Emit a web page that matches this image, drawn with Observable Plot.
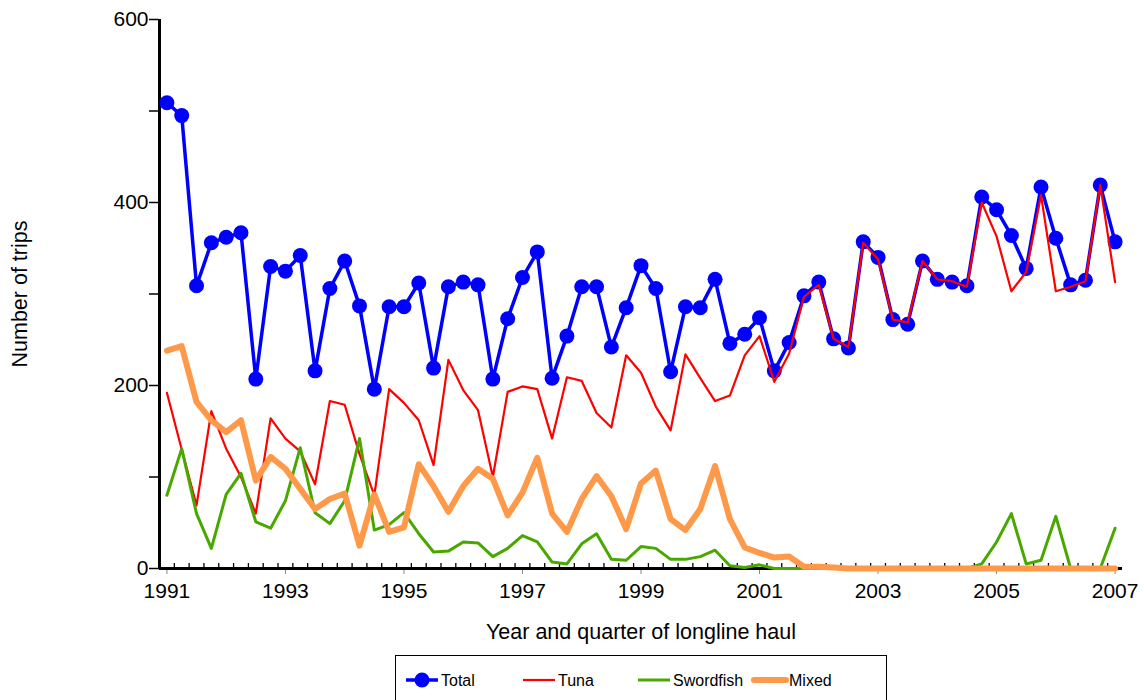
<!DOCTYPE html>
<html><head><meta charset="utf-8">
<script src="https://cdn.jsdelivr.net/npm/d3@7"></script>
<script src="https://cdn.jsdelivr.net/npm/@observablehq/plot@0.6"></script>
<style>
body{margin:0;background:#fff;font-family:"Liberation Sans",Arial,sans-serif;}
#wrap{position:relative;width:1144px;height:700px;overflow:hidden;}
#legend{position:absolute;left:395px;top:655px;width:492px;height:52px;border:1px solid #000;box-sizing:border-box;background:#fff;}
</style></head><body>
<div id="wrap"><div id="chart"></div><div id="legend"></div></div>
<script>
// ---- data (quarterly, 1991 Q1 .. 2007 Q1) ----
const startYear = 1991;
const endYear = 2007;
const quarter = d3.range((endYear - startYear) * 4 + 1).map(i => startYear + i / 4);
const yearTicks = [1991, 1993, 1995, 1997, 1999, 2001, 2003, 2005, 2007];
const yTicks = [0, 100, 200, 300, 400, 500, 600];

const total = [509,495,309,356,362,367,207,330,325,342,216,306,336,287,196,286,286,312,219,308,313,310,207,273,318,346,208,254,308,308,242,285,331,306,215,286,285,316,246,256,274,216,247,298,313,251,241,357,340,272,267,336,316,313,309,406,392,364,328,417,361,310,315,419,357];
const tuna = [192,130,69,172,131,100,60,164,142,128,92,183,179,125,80,196,181,162,113,228,195,173,100,193,199,196,142,209,205,170,154,233,214,177,151,234,208,183,189,233,254,204,235,297,310,251,242,356,338,272,269,336,316,314,308,400,363,303,324,408,303,308,314,419,313];
const swordfish = [80,131,60,22,81,104,51,44,74,132,61,49,74,142,42,48,61,38,18,19,29,28,13,22,36,29,7,5,27,38,10,9,24,22,10,10,13,20,3,1,4,0,0,0,0,0,0,0,0,0,0,0,0,0,0,5,29,60,5,9,57,0,0,0,44];
const mixed = [238,243,182,162,149,162,96,122,109,87,65,76,82,25,81,40,45,114,90,62,90,109,98,58,83,121,60,40,76,101,79,43,93,107,54,42,65,112,54,23,17,12,13,2,2,1,0,0,0,0,0,0,0,0,0,0,0,0,0,0,0,0,0,0,0];

const seriesNames = ["Total", "Tuna", "Swordfish", "Mixed"];
const seriesColors = {Total: "#0000ff", Tuna: "#ff0000", Swordfish: "#48a800", Mixed: "#ff994a"};
const seriesWidths = {Total: 3.5, Tuna: 2.2, Swordfish: 3, Mixed: 6};

const rows = (vals) => quarter.map((q, i) => ({q, v: vals[i]}));
const totalRows = rows(total), tunaRows = rows(tuna), swordRows = rows(swordfish), mixedRows = rows(mixed);

const xDomain = [startYear - 0.125, endYear + 0.125];
const minorTicks = quarter.slice(0, -1).map(q => q + 0.125);

const chart = Plot.plot({
  width: 1144,
  height: 650,
  marginLeft: 159,
  marginRight: 22,
  marginTop: 19,
  marginBottom: 82,
  style: {fontFamily: "'Liberation Sans', Arial, sans-serif", fontSize: "21px", color: "#000", background: "#fff"},
  x: {domain: xDomain},
  y: {domain: [0, 600]},
  marks: [
    Plot.axisX(yearTicks, {tickSize: 6, stroke: "#888", tickPadding: 9, fontSize: 21, tickFormat: d => String(d), label: null}),
    Plot.axisX(minorTicks, {tickSize: -5, tickFormat: () => "", strokeWidth: 1.3, label: null}),
    Plot.axisY(yTicks, {tickSize: 10, tickPadding: 1, fontSize: 21, strokeWidth: 1.5, tickFormat: d => d % 200 ? "" : String(d), label: null}),
    Plot.ruleY([0], {strokeWidth: 3}),
    Plot.ruleX([xDomain[0]], {strokeWidth: 3}),
    Plot.line(totalRows, {x: "q", y: "v", stroke: seriesColors.Total, strokeWidth: seriesWidths.Total}),
    Plot.dot(totalRows, {x: "q", y: "v", r: 7.5, fill: seriesColors.Total, stroke: null}),
    Plot.line(tunaRows, {x: "q", y: "v", stroke: seriesColors.Tuna, strokeWidth: seriesWidths.Tuna}),
    Plot.line(swordRows, {x: "q", y: "v", stroke: seriesColors.Swordfish, strokeWidth: seriesWidths.Swordfish}),
    Plot.line(mixedRows, {x: "q", y: "v", stroke: seriesColors.Mixed, strokeWidth: seriesWidths.Mixed}),
    Plot.text(["Year and quarter of longline haul"], {text: d => d, frameAnchor: "bottom", dy: 64, fontSize: 21.5, lineAnchor: "middle", textAnchor: "middle"}),
    Plot.text(["Number of trips"], {text: d => d, frameAnchor: "left", dx: -139, rotate: -90, fontSize: 21.5, lineAnchor: "middle", textAnchor: "middle"})
  ]
});
document.getElementById("chart").appendChild(chart);

// ---- legend ----
const legendPos = {Total: 10, Tuna: 127, Swordfish: 242, Mixed: 358};
const lg = d3.select("#legend").append("svg").attr("width", 490).attr("height", 50)
  .style("font-family", "'Liberation Sans', Arial, sans-serif").style("font-size", "16px");
for (const name of seriesNames) {
  const x0 = legendPos[name];
  const g = lg.append("g");
  g.append("line").attr("x1", x0).attr("x2", x0 + 32).attr("y1", 24).attr("y2", 24)
    .attr("stroke", seriesColors[name]).attr("stroke-width", seriesWidths[name]).attr("stroke-linecap", name === "Mixed" ? "round" : "butt");
  if (name === "Total") g.append("circle").attr("cx", x0 + 16).attr("cy", 24).attr("r", 7.5).attr("fill", seriesColors[name]);
  g.append("text").attr("x", x0 + 35).attr("y", 24).attr("dy", "0.35em").text(name);
}
</script>
</body></html>
